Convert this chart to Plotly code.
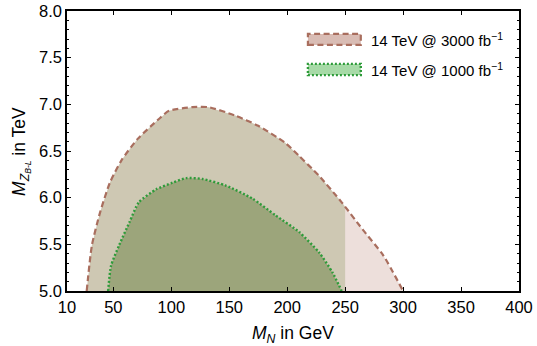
import numpy as np
import plotly.graph_objects as go

# 14 TeV @ 3000 fb^-1 boundary (M_N in GeV, M_Z' in TeV)
mn_3000 = [27, 31.5, 38.5, 47, 57, 71, 89, 98, 118, 132, 155, 175, 198, 210, 227, 247, 265, 283, 300]
mz_3000 = [5.0, 5.49, 5.84, 6.16, 6.40, 6.63, 6.84, 6.93, 6.97, 6.97, 6.88, 6.77, 6.59, 6.45, 6.24, 5.95, 5.66, 5.38, 5.0]

# 14 TeV @ 1000 fb^-1 boundary
mn_1000 = [45.5, 48, 55, 64, 72, 87, 101, 113, 127, 147, 170, 190, 210.5, 227.7, 239, 247]
mz_1000 = [5.0, 5.27, 5.49, 5.74, 5.95, 6.09, 6.16, 6.21, 6.20, 6.13, 5.99, 5.81, 5.63, 5.41, 5.20, 5.0]

split_mn = 250
x_ticks = [10, 50, 100, 150, 200, 250, 300, 350, 400]
y_ticks = [5.0, 5.5, 6.0, 6.5, 7.0, 7.5, 8.0]
labels = ["14 TeV @ 3000 fb<sup>\u22121</sup>", "14 TeV @ 1000 fb<sup>\u22121</sup>"]

BROWN = "#A96E5E"
GREEN = "#2E9B3A"
PINK_FILL = "#EDDFDB"
TAN_FILL = "#CEC8B3"
OLIVE_FILL = "#9CA57B"
FONT = "Liberation Sans, Arial, sans-serif"

fig = go.Figure()

# full 3000 region (pink)
fig.add_trace(go.Scatter(x=mn_3000, y=mz_3000, fill="toself", fillcolor=PINK_FILL,
                         mode="none", hoverinfo="skip", showlegend=False))

# part of 3000 region left of split (tan)
mn_arr = np.array(mn_3000)
mz_arr = np.array(mz_3000)
i_peak = int(np.argmax(mz_arr))
y_split = float(np.interp(split_mn, mn_arr[i_peak:], mz_arr[i_peak:]))
keep = mn_arr <= split_mn
tan_x = list(mn_arr[keep]) + [split_mn, split_mn]
tan_y = list(mz_arr[keep]) + [y_split, 5.0]
fig.add_trace(go.Scatter(x=tan_x, y=tan_y, fill="toself", fillcolor=TAN_FILL,
                         mode="none", hoverinfo="skip", showlegend=False))

# 1000 region
fig.add_trace(go.Scatter(x=mn_1000, y=mz_1000, fill="toself", fillcolor=OLIVE_FILL,
                         mode="none", hoverinfo="skip", showlegend=False))

# boundaries
fig.add_trace(go.Scatter(x=mn_3000, y=mz_3000, mode="lines", showlegend=False,
                         line=dict(color=BROWN, width=2.2, dash="6px,3.5px", shape="spline", smoothing=0.6)))
fig.add_trace(go.Scatter(x=mn_1000, y=mz_1000, mode="lines", showlegend=False,
                         line=dict(color=GREEN, width=2.4, dash="2px,2px", shape="spline", smoothing=0.6)))

# manual legend
fig.add_shape(type="rect", xref="paper", yref="paper", x0=0.533, x1=0.650, y0=0.879, y1=0.918,
              fillcolor="#D9BCB4", line=dict(color=BROWN, width=2.2, dash="6px,3.5px"))
fig.add_shape(type="rect", xref="paper", yref="paper", x0=0.533, x1=0.650, y0=0.771, y1=0.811,
              fillcolor="#A7DAA7", line=dict(color=GREEN, width=2.4, dash="2px,2px"))
for lab, yy in zip(labels, [0.898, 0.790]):
    fig.add_annotation(xref="paper", yref="paper", x=0.668, y=yy, text=lab, showarrow=False,
                       xanchor="left", yanchor="middle",
                       font=dict(family=FONT, size=15, color="black"))

# axis titles
title_font = dict(family=FONT, size=17.5, color="black")
fig.add_annotation(xref="paper", yref="paper", x=0.5, y=-0.155, text="<i>M</i><sub><i>N</i></sub> in GeV",
                   showarrow=False, xanchor="center", yanchor="middle", font=title_font)
fig.add_annotation(xref="paper", yref="paper", x=-0.102, y=0.5, textangle=-90,
                   text="<i>M</i><sub><i>Z</i><sub><i>B-L</i></sub></sub> in TeV",
                   showarrow=False, xanchor="center", yanchor="middle", font=title_font)

tick_font = dict(family=FONT, size=16.5, color="black")
fig.update_xaxes(range=[10, 400], tickvals=x_ticks, ticktext=[str(v) for v in x_ticks],
                 ticks="inside", ticklen=4, tickwidth=1, tickcolor="black",
                 showline=True, linecolor="black", linewidth=1.6, mirror="allticks",
                 showgrid=False, zeroline=False, tickfont=tick_font, automargin=False,
                 ticklabeloverflow="allow")
fig.update_yaxes(range=[5.0, 8.0], tickvals=y_ticks, ticktext=["%.1f" % v for v in y_ticks],
                 ticks="inside", ticklen=4, tickwidth=1, tickcolor="black",
                 minor=dict(dtick=0.1, ticks="inside", ticklen=2, tickwidth=1, tickcolor="black"),
                 showline=True, linecolor="black", linewidth=1.6, mirror="allticks",
                 showgrid=False, zeroline=False, tickfont=tick_font, automargin=False,
                 ticklabeloverflow="allow")

fig.update_layout(width=537, height=346, margin=dict(l=67, r=18, t=11, b=55, autoexpand=False),
                  paper_bgcolor="white", plot_bgcolor="white", showlegend=False)

# remove the page's default 8px body margin so the figure fills the window exactly
fig.write_html("out.html", config={"displayModeBar": False},
               post_script="document.body.style.margin='0';document.body.style.overflow='hidden';")
